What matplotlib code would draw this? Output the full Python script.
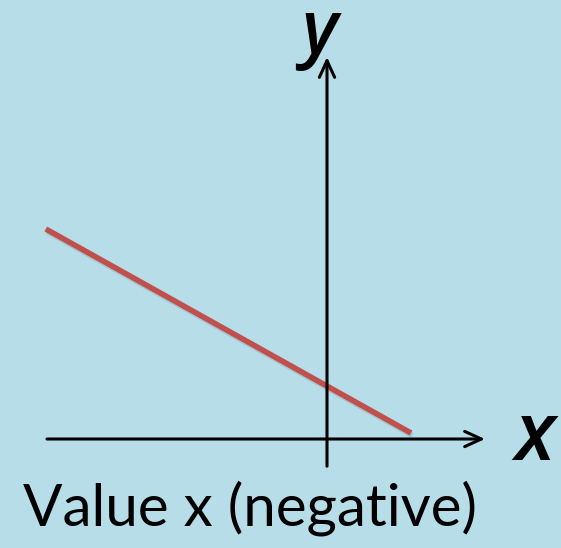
import numpy as np
import matplotlib.pyplot as plt

# red line, in axis units (origin where the two arrows cross)
line_x = [-7.03, 2.1]
line_y = [5.25, 0.15]

x_axis = [-7.0, 3.95]   # x arrow from / to
y_axis = [-0.68, 9.55]  # y arrow from / to

caption = "Value x (negative)"

bg = "#B7DDE8"
red = "#C0504D"

fig = plt.figure(figsize=(5.61, 5.48), dpi=100, facecolor=bg)
ax = fig.add_axes([0, 0, 1, 1])
ax.set_facecolor(bg)
ax.set_xlim(-8.175, 5.85)
ax.set_ylim(-2.725, 10.975)
ax.axis("off")

arrow = dict(arrowstyle="->,head_length=1.2,head_width=0.55", color="black",
             lw=2.2, shrinkA=0, shrinkB=0)
ax.annotate("", xy=(x_axis[1], 0), xytext=(x_axis[0], 0), arrowprops=arrow)
ax.annotate("", xy=(0, y_axis[1]), xytext=(0, y_axis[0]), arrowprops=arrow)

# soft shadow then the line
ax.plot(np.array(line_x) + 0.03, np.array(line_y) - 0.06, color="#7f9aa3",
        lw=4, alpha=0.35, solid_capstyle="butt")
ax.plot(line_x, line_y, color=red, lw=4, solid_capstyle="butt")

ax.text(-0.2, 9.66, "y", fontsize=53, style="italic", fontweight="semibold",
        family="Open Sans", ha="center", va="baseline")
ax.text(5.18, 0.0, "x", fontsize=58, style="italic", fontweight="semibold",
        family="Open Sans", ha="center", va="center")
ax.text(-1.93, -2.15, caption, fontsize=42, family="Lato",
        ha="center", va="baseline")

fig.savefig("out.png", dpi=100, facecolor=bg)
